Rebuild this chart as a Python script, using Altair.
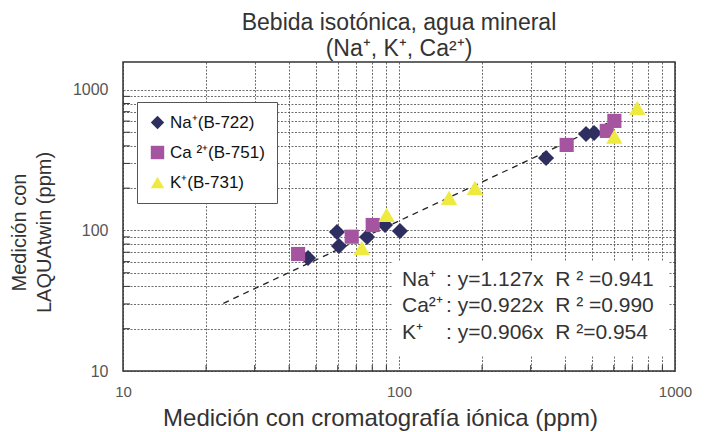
import altair as alt
import pandas as pd

# ---- data ----
series_names = ["Na⁺(B-722)", "Ca ²⁺(B-751)", "K⁺(B-731)"]
na_x = [46.8, 59.6, 60.6, 76.6, 89.0, 100.8, 341, 476, 509]
na_y = [63.7, 97.6, 77.6, 89.9, 109.4, 99.2, 328, 486, 494]
ca_x = [43.1, 67.4, 80.3, 405, 566, 603]
ca_y = [68.0, 90.3, 109.4, 406, 511, 602]
k_x = [73.3, 90.2, 151.8, 188.5, 603, 730]
k_y = [75.0, 128.9, 170.3, 200.6, 465, 745]
trend_x = [23.1, 585]
trend_y = [30.3, 595]
NB = "\u00a0"
ion_labels = ["Na⁺", "Ca²⁺", "K⁺"]
fit_texts = [
    ":" + NB + "y=1.127x" + NB * 2 + "R" + NB + "²" + NB + "=0.941",
    ":" + NB + "y=0.922x" + NB * 2 + "R" + NB + "²" + NB + "=0.990",
    ":" + NB + "y=0.906x" + NB * 2 + "R" + NB + "²=0.954",
]
grid_vals = [10, 20, 30, 40, 50, 60, 70, 80, 90, 100, 200, 300, 400, 500, 600, 700, 800, 900, 1000]
minor_ticks = [20, 30, 40, 50, 60, 70, 80, 90, 200, 300, 400, 500, 600, 700, 800, 900]
title_lines = ["Bebida isotónica, agua mineral", "(Na⁺, K⁺, Ca²⁺)"]
x_title = "Medición con cromatografía iónica (ppm)"
y_title = ["Medición con", "LAQUAtwin (ppm)"]

rows = []
for name, xs, ys in [(series_names[0], na_x, na_y), (series_names[1], ca_x, ca_y), (series_names[2], k_x, k_y)]:
    for a, b in zip(xs, ys):
        rows.append({"serie": name, "x": a, "y": b})
pts = pd.DataFrame(rows)
trend = pd.DataFrame({"x": trend_x, "y": trend_y})
ticks = pd.DataFrame({"t": minor_ticks})

W, H = 552, 309
FONT = "Liberation Sans, Arial, Helvetica, sans-serif"
label_expr = "indexof([10,100,1000], datum.value) >= 0 ? format(datum.value, 'd') : ''"

xscale = alt.Scale(type="log", domain=[10, 1000], nice=False)
yscale = alt.Scale(type="log", domain=[10, 1580], nice=False)

xaxis = alt.Axis(values=grid_vals, labelExpr=label_expr, title=x_title, grid=True,
                 ticks=False, tickSize=0, labelPadding=13, labelFlush=False, labelOverlap=False,
                 titleX=257, titleY=54, titleBaseline="alphabetic", titleAlign="center",
                 titleFontSize=24)
yaxis = alt.Axis(values=grid_vals, labelExpr=label_expr, title=y_title, grid=True,
                 ticks=False, tickSize=0, labelPadding=15, labelOverlap=False, labelFlush=False,
                 titleAngle=270, titleX=-98, titleY=170, titleAlign="center",
                 titleBaseline="alphabetic", titleFontSize=20, titleLineHeight=25)

color_enc = alt.Color("serie:N", sort=series_names,
                      scale=alt.Scale(domain=series_names, range=["#2e2f60", "#a555a0", "#eeea40"]),
                      legend=alt.Legend(title=None, orient="none", legendX=14, legendY=40,
                                        fillColor="white", strokeColor="#555", padding=12,
                                        labelFontSize=17, labelFont=FONT, labelColor="#111",
                                        symbolSize=180, rowPadding=12, labelOffset=4))
shape_enc = alt.Shape("serie:N", sort=series_names,
                      scale=alt.Scale(domain=series_names, range=["diamond", "square", "triangle-up"]))

base_pts = alt.Chart(pts).encode(
    x=alt.X("x:Q", scale=xscale, axis=xaxis),
    y=alt.Y("y:Q", scale=yscale, axis=yaxis),
    color=color_enc, shape=shape_enc,
)
marker_sizes = [260, 200, 270]
pt_layers = [
    base_pts.transform_filter(alt.datum.serie == name).mark_point(filled=True, opacity=1, size=s)
    for name, s in zip(series_names, marker_sizes)
]

line = alt.Chart(trend).mark_line(color="#222", strokeDash=[6, 5], strokeWidth=1.3).encode(
    x=alt.X("x:Q", scale=xscale), y=alt.Y("y:Q", scale=yscale))

xt = alt.Chart(ticks).mark_rule(color="#333", strokeWidth=1).encode(
    x=alt.X("t:Q", scale=xscale), y=alt.value(H), y2=alt.value(H - 6))
yt = alt.Chart(ticks).mark_rule(color="#333", strokeWidth=1).encode(
    y=alt.Y("t:Q", scale=yscale), x=alt.value(0), x2=alt.value(7))

box = alt.Chart(alt.Data(values=[{}])).mark_rect(color="white").encode(
    x=alt.value(269), x2=alt.value(545), y=alt.value(200), y2=alt.value(294))

txt1 = alt.Chart(alt.Data(values=[{}])).mark_text(
    align="left", baseline="alphabetic", fontSize=21, font=FONT, color="#333",
    lineBreak="\n", lineHeight=26.5, text="\n".join(ion_labels)).encode(
    x=alt.value(279), y=alt.value(223.5))
txt2 = alt.Chart(alt.Data(values=[{}])).mark_text(
    align="left", baseline="alphabetic", fontSize=21, font=FONT, color="#333",
    lineBreak="\n", lineHeight=26.5, text="\n".join(fit_texts)).encode(
    x=alt.value(323), y=alt.value(223.5))

chart = alt.layer(line, *pt_layers, xt, yt, box, txt1, txt2).properties(
    width=W, height=H,
    title=alt.Title(title_lines, fontSize=23, font=FONT, fontWeight="normal", color="#333",
                    anchor="middle", lineHeight=26, offset=1),
    autosize=alt.AutoSizeParams(type="none"),
    padding={"left": 115, "top": 54, "right": 20, "bottom": 60},
).configure_view(stroke="#333", strokeWidth=1.5).configure_axis(
    domain=False, gridColor="#333", gridDash=[2, 1.5], gridWidth=0.8, gridOpacity=0.9,
    labelFont=FONT, labelFontSize=16, labelColor="#555",
    titleFont=FONT, titleColor="#333", titleFontWeight="normal",
).configure_axisX(labelFontSize=15)

chart.save("out.html", embed_options={"renderer": "svg", "actions": False})
